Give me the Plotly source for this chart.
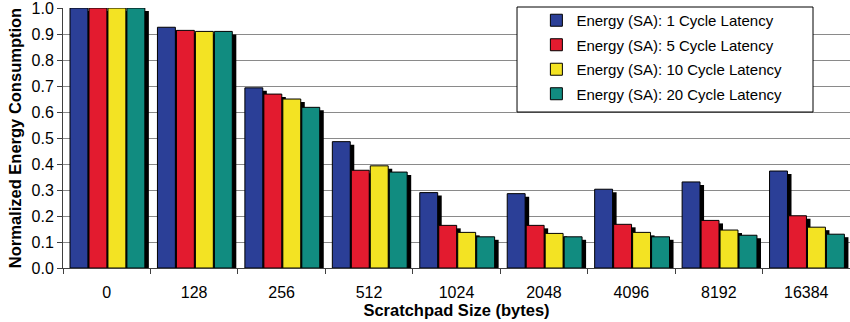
import plotly.graph_objects as go

categories = ["0", "128", "256", "512", "1024", "2048", "4096", "8192", "16384"]
series_names = [
    "Energy (SA): 1 Cycle Latency",
    "Energy (SA): 5 Cycle Latency",
    "Energy (SA): 10 Cycle Latency",
    "Energy (SA): 20 Cycle Latency",
]
lat1 = [1.0, 0.926, 0.693, 0.486, 0.290, 0.286, 0.303, 0.331, 0.373]
lat5 = [1.0, 0.914, 0.669, 0.376, 0.164, 0.164, 0.168, 0.183, 0.201]
lat10 = [1.0, 0.910, 0.650, 0.393, 0.137, 0.133, 0.137, 0.146, 0.157]
lat20 = [1.0, 0.910, 0.618, 0.369, 0.120, 0.120, 0.120, 0.126, 0.130]
y_ticks = [0.0, 0.1, 0.2, 0.3, 0.4, 0.5, 0.6, 0.7, 0.8, 0.9, 1.0]

series = [lat1, lat5, lat10, lat20]
colors = ["#2b3f97", "#e31b2f", "#f3e323", "#118c80"]
offsets = [-0.42, -0.203, 0.014, 0.231]
bar_w = 0.205
sh_dx = 0.046
sh_dy = 0.0115
sh_base = -0.02

x = list(range(len(categories)))
fig = go.Figure()

# drop shadows
for vals, off in zip(series, offsets):
    fig.add_trace(go.Bar(
        x=x, y=[v - sh_dy - sh_base for v in vals], base=sh_base,
        offset=off + sh_dx, width=bar_w,
        marker=dict(color="black", line=dict(width=0)),
        showlegend=False, hoverinfo="skip",
    ))

for i, (vals, off, col, name) in enumerate(zip(series, offsets, colors, series_names)):
    fig.add_trace(go.Bar(
        x=x, y=vals, offset=off, width=bar_w, name=name,
        marker=dict(color=col, line=dict(color="black", width=1)),
        legendgroup=f"g{i}",
    ))

# legend frame
fig.add_shape(type="rect", xref="paper", yref="paper",
              x0=0.5769, x1=0.953, y0=0.6, y1=1.0038,
              fillcolor="white", line=dict(color="black", width=1), layer="above")

fig.update_layout(
    width=850, height=322,
    margin=dict(l=63, r=0, t=8, b=54),
    barmode="overlay",
    plot_bgcolor="white", paper_bgcolor="white",
    font=dict(family="Liberation Sans, Arial, sans-serif", size=16, color="black"),
    legend=dict(
        x=0.6015, y=1.0154, xanchor="left", yanchor="top",
        bgcolor="rgba(0,0,0,0)", borderwidth=0,
        font=dict(size=15), tracegroupgap=2,
    ),
    xaxis=dict(
        range=[-0.5, 8.5], automargin=False,
        tickmode="array", tickvals=x, ticktext=categories,
        ticks="outside", ticklen=10, tickcolor="rgba(0,0,0,0)",
        showline=True, linecolor="#404040", linewidth=1,
        showgrid=False, zeroline=False,
        minor=dict(tickmode="array", tickvals=[i + 0.5 for i in range(-1, 9)],
                   ticks="outside", ticklen=5, tickcolor="#404040", showgrid=False),
        title=dict(text="<b>Scratchpad Size (bytes)</b>", standoff=0, font=dict(size=16.5)),
    ),
    yaxis=dict(
        range=[0, 1.0001], automargin=False, ticklabeloverflow="allow",
        tickmode="array", tickvals=y_ticks, ticktext=[f"{v:.1f}" for v in y_ticks],
        ticks="outside", ticklen=5, tickcolor="#404040",
        showline=True, linecolor="#404040", linewidth=1,
        showgrid=True, gridcolor="#8a8a8a", gridwidth=1,
        zeroline=False,
        title=dict(text="<b>Normalized Energy Consumption</b>", standoff=5, font=dict(size=16.5)),
    ),
)

fig.write_html("out.html", config={"displayModeBar": False},
               post_script="document.body.style.margin='0px';")
